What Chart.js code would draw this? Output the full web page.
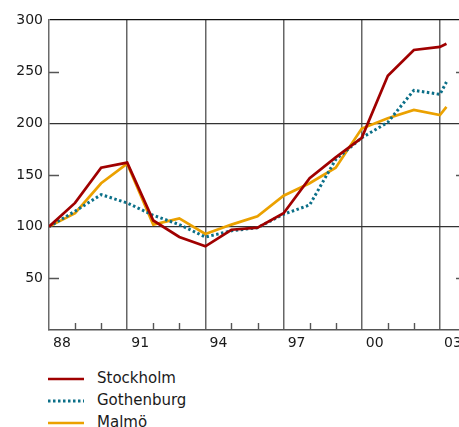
<!DOCTYPE html>
<html>
<head>
<meta charset="utf-8">
<script src="https://cdn.jsdelivr.net/npm/chart.js@4/dist/chart.umd.min.js"></script>
<style>
body { margin: 0; background: #fff; overflow: hidden; }
#wrap { width: 459px; height: 427px; overflow: hidden; position: relative; }
#legend { position: absolute; left: 48px; top: 367px; font-family: "DejaVu Sans", sans-serif; font-size: 15px; color: #1a1a1a; }
#legend div { height: 22px; line-height: 22px; white-space: nowrap; }
#legend svg { vertical-align: middle; margin-right: 13px; }
</style>
</head>
<body>
<div id="wrap">
  <canvas id="chart1" width="466" height="360"></canvas>
  <div id="legend"></div>
</div>
<script>
//data (index, 1988 = 100)
var years      = [1988, 1989, 1990, 1991, 1992, 1993, 1994, 1995, 1996, 1997, 1998, 1999, 2000, 2001, 2002, 2003, 2003.25];
var stockholm  = [100, 123, 157, 162, 106, 90, 81, 97, 99, 113, 147, 167, 186, 246, 271, 274, 277];
var gothenburg = [100, 115, 131, 123, 111, 102, 90, 96, 99, 112, 121, 165, 186, 201, 232, 228, 240];
var malmo      = [100, 113, 142, 161, 102, 108, 93, 102, 110, 130, 142, 157, 195, 205, 213, 208, 216];

//tick labels
var xLabelYears = [1988, 1991, 1994, 1997, 2000, 2003];
var xLabels     = ['88', '91', '94', '97', '00', '03'];
var yTicks      = [0, 50, 100, 150, 200, 250, 300];
var yLabels     = ['', '50', '100', '150', '200', '250', '300'];

function pts(vals) {
	return vals.map(function (v, i) { return { x: years[i], y: v }; });
}

//small inside tick marks (every year on x, 50/150/250 on y)
var innerTicks = {
	id: 'innerTicks',
	beforeDatasetsDraw: function (chart) {
		var ctx = chart.ctx, a = chart.chartArea, x = chart.scales.x, y = chart.scales.y;
		ctx.save();
		ctx.strokeStyle = '#555';
		ctx.lineWidth = 1.4;
		ctx.beginPath();
		for (var yr = 1989; yr < 2004; yr++) {
			if ((yr - 1988) % 3 == 0) continue;
			var px = Math.round(x.getPixelForValue(yr)) + 0.5;
			ctx.moveTo(px, a.bottom);
			ctx.lineTo(px, a.bottom - 7);
		}
		[50, 150, 250].forEach(function (v) {
			var py = Math.round(y.getPixelForValue(v)) + 0.5;
			ctx.moveTo(a.left, py); ctx.lineTo(a.left + 10, py);
			ctx.moveTo(a.right, py); ctx.lineTo(a.right - 10, py);
		});
		ctx.stroke();
		ctx.restore();
	}
};

//ticks for x: every year (for the grid) + half years (for the labels)
var xTickVals = [];
for (var t = 1988; t <= 2004; t++) {
	xTickVals.push(t);
	if (xLabelYears.indexOf(t) >= 0) xTickVals.push(t + 0.5);
}

var chart = new Chart(document.getElementById('chart1'), {
	type: 'line',
	data: {
		datasets: [
			{ label: 'Stockholm', data: pts(stockholm), borderColor: '#a00000', borderWidth: 2.7, pointRadius: 0, tension: 0 },
			{ label: 'Gothenburg', data: pts(gothenburg), borderColor: '#0b6f88', borderWidth: 3, borderDash: [2.5, 2.5], pointRadius: 0, tension: 0 },
			{ label: 'Malmö', data: pts(malmo), borderColor: '#eba100', borderWidth: 2.7, pointRadius: 0, tension: 0 }
		]
	},
	options: {
		responsive: false,
		animation: false,
		devicePixelRatio: 1,
		layout: { padding: { top: 20, right: 0, left: 0, bottom: 0 } },
		plugins: { legend: { display: false }, tooltip: { enabled: false } },
		scales: {
			x: {
				type: 'linear', min: 1988, max: 2004,
				afterBuildTicks: function (s) { s.ticks = xTickVals.map(function (v) { return { value: v }; }); },
				//no extra side padding, the plot runs off the right edge like the original
				afterFit: function (s) { s.height = 30; s.paddingLeft = 0; s.paddingRight = 0; },
				ticks: {
					autoSkip: false, maxRotation: 0, padding: 5, color: '#1a1a1a',
					font: { family: 'DejaVu Sans', size: 14 },
					callback: function (v) {
						var i = xLabelYears.indexOf(v - 0.5);
						return i >= 0 ? xLabels[i] : '';
					}
				},
				grid: {
					drawTicks: false, lineWidth: 1.5,
					color: function (c) {
						var v = c.tick ? c.tick.value : 0;
						return (v > 1988 && v % 1 == 0 && (v - 1988) % 3 == 0) ? '#666' : 'rgba(0,0,0,0)';
					}
				},
				border: { display: true, color: '#555', width: 1.5 }
			},
			y: {
				min: 0, max: 300,
				afterBuildTicks: function (s) { s.ticks = yTicks.map(function (v) { return { value: v }; }); },
				afterFit: function (s) { s.width = 49; s.paddingTop = 0; s.paddingBottom = 0; },
				ticks: {
					padding: 6, color: '#1a1a1a',
					font: { family: 'DejaVu Sans', size: 14 },
					callback: function (v) { return yLabels[yTicks.indexOf(v)]; }
				},
				grid: {
					drawTicks: false, lineWidth: 1.3,
					color: function (c) {
						var v = c.tick ? c.tick.value : 0;
						if (v == 300) return '#111';
						return (v == 100 || v == 200) ? '#333' : 'rgba(0,0,0,0)';
					}
				},
				border: { display: true, color: '#6a6a6a', width: 1.5 }
			}
		}
	},
	plugins: [innerTicks]
});

//legend built from the chart's datasets, one row each
var lg = document.getElementById('legend');
chart.data.datasets.forEach(function (d) {
	var dash = d.borderDash ? ' stroke-dasharray="' + d.borderDash.join(',') + '"' : '';
	var row = document.createElement('div');
	row.innerHTML = '<svg width="36" height="6"><line x1="0" y1="3" x2="36" y2="3" stroke="' + d.borderColor +
		'" stroke-width="' + d.borderWidth + '"' + dash + '/></svg>' + d.label;
	lg.appendChild(row);
});
</script>
</body>
</html>
